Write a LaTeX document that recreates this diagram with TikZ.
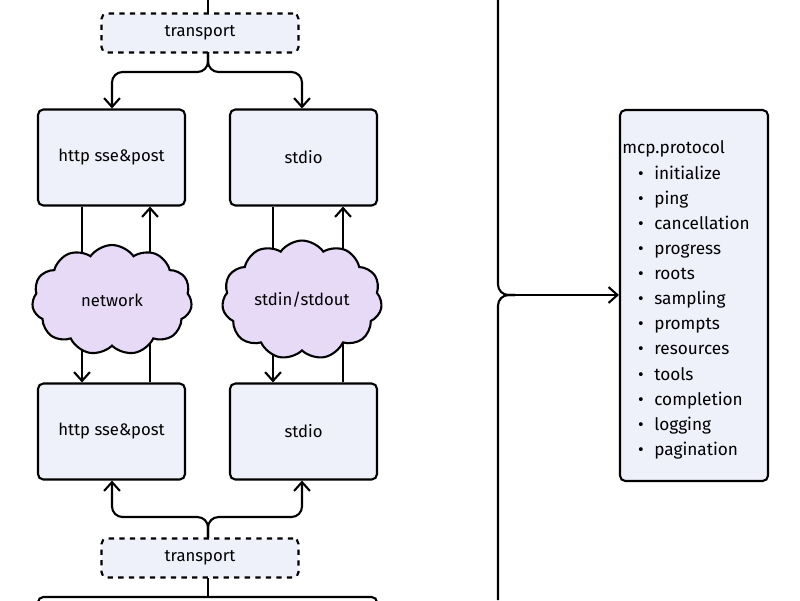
\documentclass[tikz,border=0pt]{standalone}
\usepackage{fontspec}
\setmainfont{Fira Sans}
\usetikzlibrary{shapes.symbols,arrows.meta}
\definecolor{boxfill}{HTML}{EEF0FA}
\definecolor{cloudfill}{HTML}{E6DAF6}
\tikzset{
  block/.style={draw,line width=1.2pt,rounded corners=3pt,fill=boxfill,minimum width=2.94cm,minimum height=1.92cm,font=\fontsize{9.5}{12}\selectfont},
  tbox/.style={draw,dashed,line width=1.2pt,rounded corners=3pt,fill=boxfill,minimum width=3.94cm,minimum height=0.78cm,font=\fontsize{9.5}{12}\selectfont},
  puff/.style={cloud,cloud puffs=11,cloud puff arc=110,aspect=1.5,draw,line width=1.2pt,fill=cloudfill,minimum width=3.2cm,minimum height=2.2cm,font=\fontsize{9.5}{12}\selectfont},
  link/.style={line width=1.2pt,rounded corners=6pt},
  arr/.style={link,-{Straight Barb[length=5pt,width=9pt]}}
}
\begin{document}
\begin{tikzpicture}[x=0.02cm,y=-0.02cm]
\useasboundingbox (0,0) rectangle (800,600);
% top side
\node[tbox] (t1) at (200,33) {transport};
\node[block] (a1) at (111.5,157.5) {http sse\&post};
\node[block] (b1) at (303.5,157.5) {stdio};
\coordinate (top) at (208,0);
\draw[link] (top) -- (208,13);
\draw[arr] (208,52) -- (208,72) -- (112,72) -- (a1.north -| 112,0);
\draw[arr] (208,52) -- (208,72) -- (302,72) -- (b1.north -| 302,0);
% lower side
\node[block] (a2) at (111.5,431.5) {http sse\&post};
\node[block] (b2) at (303.5,431.5) {stdio};
\node[tbox] (t2) at (200,558) {transport};
\draw[arr] (208,538) -- (208,517) -- (112,517) -- (a2.south -| 112,0);
\draw[arr] (208,538) -- (208,517) -- (302,517) -- (b2.south -| 302,0);
\draw[link] (208,578) -- (208,597);
\draw[line width=1.2pt,rounded corners=3pt] (38,640) -- (38,597) -- (377,597) -- (377,640);
% wires through the clouds
\draw[arr] (a1.south -| 82,0) -- (a2.north -| 82,0);
\draw[arr] (a2.north -| 150,0) -- (a1.south -| 150,0);
\draw[arr] (b1.south -| 273,0) -- (b2.north -| 273,0);
\draw[arr] (b2.north -| 343,0) -- (b1.south -| 343,0);
\node[puff] (net) at (112,300) {network};
\node[puff] (std) at (302,300) {stdin/stdout};
% protocol
\node[draw,line width=1.2pt,rounded corners=3pt,fill=boxfill,minimum width=2.96cm,minimum height=7.42cm] (p) at (694,295.5) {};
\node[anchor=north west,inner sep=0pt,font=\fontsize{9.8}{14.3}\selectfont] (plist) at (622,136) {%
\begin{tabular}{@{}l@{\hspace{6pt}}l@{}}
\multicolumn{2}{@{}l}{mcp.protocol}\\
\hspace{9pt}\textbullet & initialize\\
\hspace{9pt}\textbullet & ping\\
\hspace{9pt}\textbullet & cancellation\\
\hspace{9pt}\textbullet & progress\\
\hspace{9pt}\textbullet & roots\\
\hspace{9pt}\textbullet & sampling\\
\hspace{9pt}\textbullet & prompts\\
\hspace{9pt}\textbullet & resources\\
\hspace{9pt}\textbullet & tools\\
\hspace{9pt}\textbullet & completion\\
\hspace{9pt}\textbullet & logging\\
\hspace{9pt}\textbullet & pagination
\end{tabular}};
\draw[link] (498,0) -- (498,295) -- (515,295);
\draw[link] (498,600) -- (498,295) -- (515,295);
\draw[arr] (510,295) -- (p.west |- 0,295);
\end{tikzpicture}
\end{document}
